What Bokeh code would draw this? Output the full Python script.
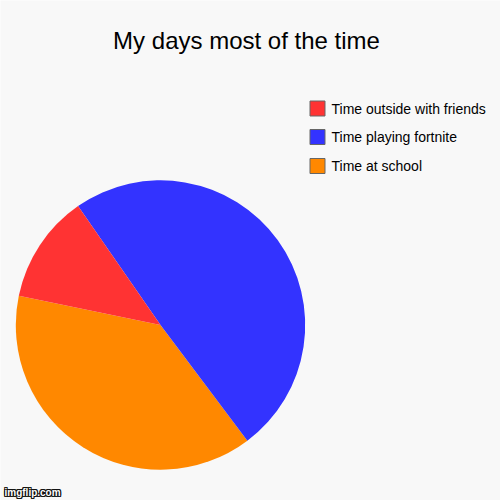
import math
import numpy as np
from bokeh.plotting import figure
from bokeh.models import ColumnDataSource, Range1d
from bokeh.core.properties import value
from bokeh.embed import file_html
from bokeh.resources import INLINE

# ---- data ----
title = "My days most of the time"
categories = ["Time at school", "Time playing fortnite", "Time outside with friends"]
values = [38.5, 49.4, 12.1]
colors = ["#ff8800", "#3333ff", "#ff3333"]
watermark = "imgflip.com"

# ---- layout ----
W = H = 500
BG = "#f8f8f8"
FONT = "Liberation Sans"

p = figure(width=W, height=H, output_backend="svg", toolbar_location=None,
           x_range=Range1d(0, W), y_range=Range1d(0, H),
           min_border=0, background_fill_color=BG, border_fill_color=BG)
p.axis.visible = False
p.grid.visible = False
p.outline_line_color = None

def px(X):
    return X

def py(Y):
    return H - Y

# pie
vals = np.array(values, dtype=float)
frac = vals / vals.sum()
start0 = math.radians(168.3)
cum = np.concatenate([[0], np.cumsum(frac)])
starts = start0 + 2 * math.pi * cum[:-1]
ends = start0 + 2 * math.pi * cum[1:]
src = ColumnDataSource(dict(start=starts, end=ends, color=colors, cat=categories))
p.wedge(x=px(160), y=py(324.5), radius=144.7, start_angle="start", end_angle="end",
        fill_color="color", line_color=None, source=src)

# title
p.text(x=[px(246)], y=[py(39.5)], text=[title], text_font=value(FONT),
       text_font_size="24px", text_align="center", text_baseline="alphabetic",
       text_color="#000000")

# legend (reversed order, top = last category)
leg_cats = categories[::-1]
leg_cols = colors[::-1]
ys = [py(108), py(136.5), py(165.5)]
p.rect(x=[px(317)] * 3, y=ys, width=15, height=15, fill_color=leg_cols,
       line_color="#666666", line_width=1)
p.text(x=[px(331)] * 3, y=ys, text=leg_cats, text_font=value(FONT),
       text_font_size="14px", text_align="left", text_baseline="middle",
       text_color="#000000")

# watermark
for dx, dy in [(-1, 0), (1, 0), (0, -1), (0, 1), (-1, -1), (1, 1), (-1, 1), (1, -1)]:
    p.text(x=[px(4) + dx], y=[py(492) + dy], text=[watermark], text_font=value(FONT),
           text_font_size="10px", text_font_style="bold", text_color="#111111",
           text_align="left", text_baseline="alphabetic")
p.text(x=[px(4)], y=[py(492)], text=[watermark], text_font=value(FONT),
       text_font_size="10px", text_font_style="bold", text_color="#ffffff",
       text_align="left", text_baseline="alphabetic")

html = file_html(p, INLINE)
html = html.replace("<body>", '<body style="background:%s;margin:0">' % BG, 1)
open("out.html", "w").write(html)
